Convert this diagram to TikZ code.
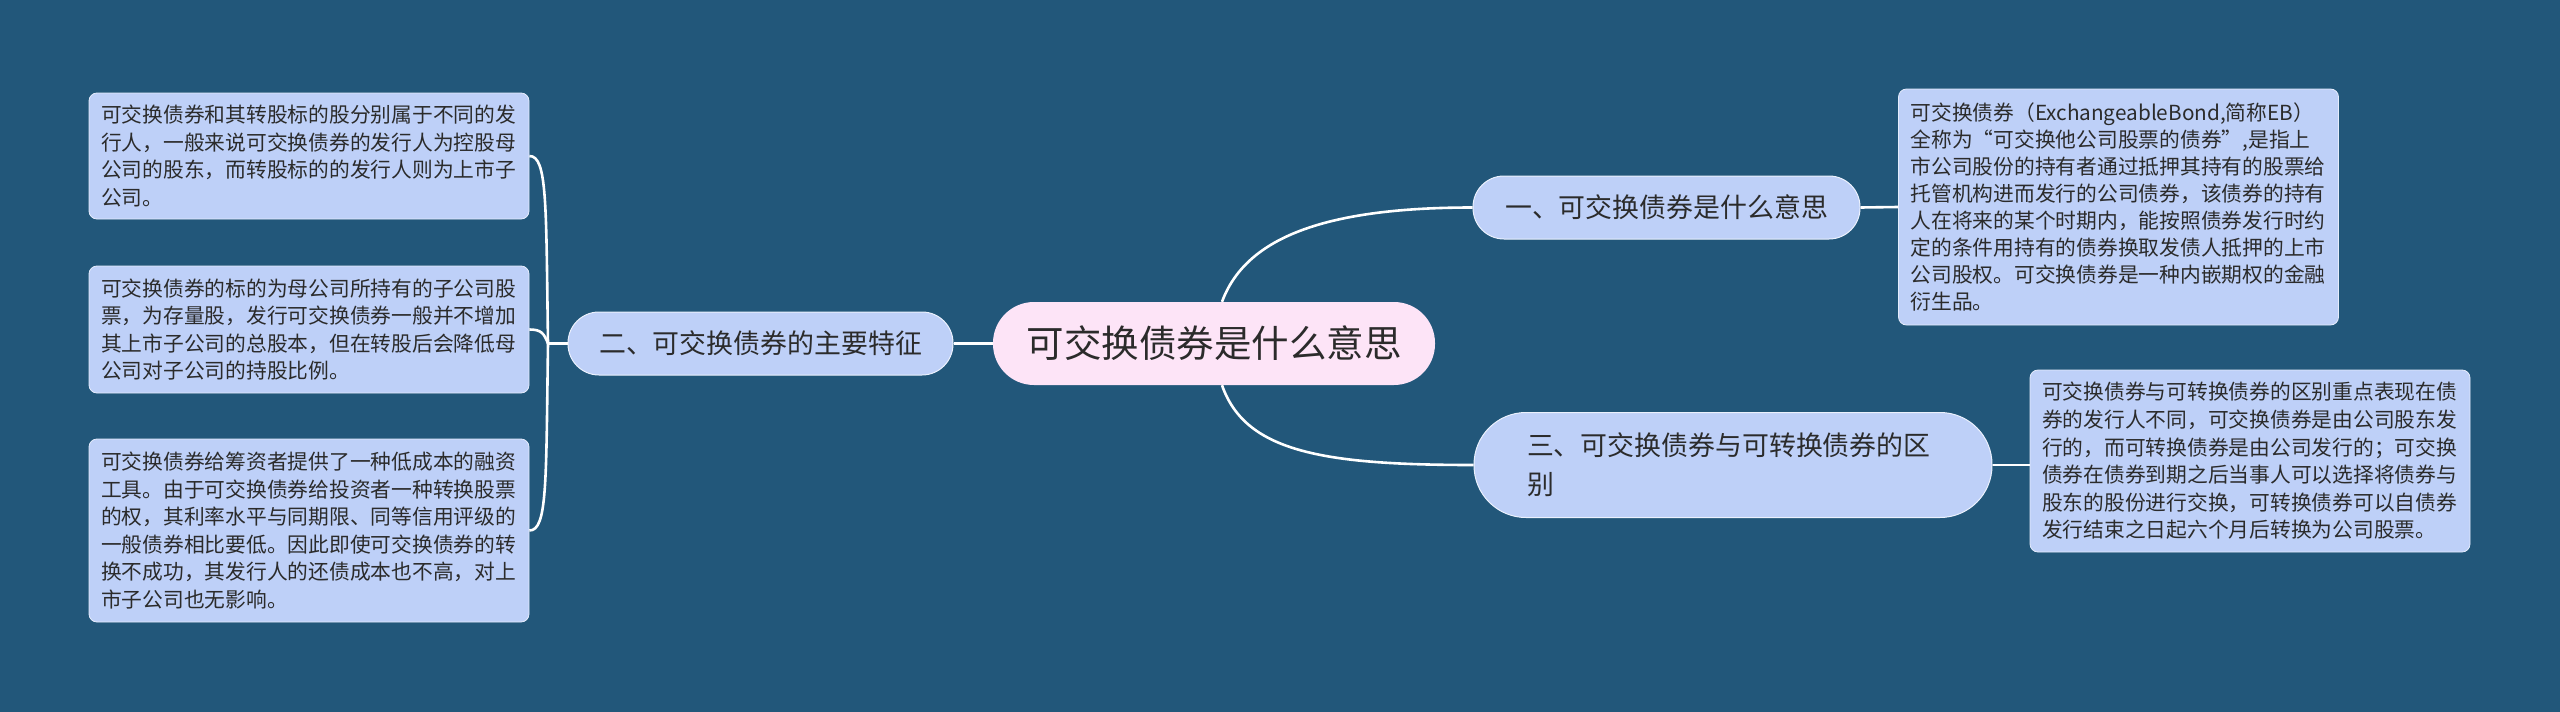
\documentclass[tikz,border=0pt]{standalone}
\usepackage{fontspec}
\setmainfont{Noto Sans CJK SC}
\definecolor{bgcol}{HTML}{22577A}
\definecolor{leafcol}{HTML}{BED0F8}
\definecolor{rootcol}{HTML}{FDE4F7}
\definecolor{txtcol}{HTML}{2B2B2B}
\tikzset{
  conn/.style={draw=white, line width=2.6pt},
  rootbox/.style={fill=rootcol, rounded corners=41pt, minimum width=442pt, minimum height=83pt, inner sep=0pt, text=txtcol, font=\fontsize{37.5pt}{44pt}\selectfont},
  topicbox/.style={fill=leafcol, draw=white!70!leafcol, line width=1pt, rounded corners=31pt, minimum height=63pt, inner sep=0pt, text=txtcol, font=\fontsize{26.9pt}{37pt}\selectfont},
  leafbox/.style={fill=leafcol, draw=white!60!leafcol, line width=0.8pt, rounded corners=8pt, minimum width=440pt, inner xsep=12pt, inner ysep=0pt, text width=416pt, align=left, text=txtcol, font=\fontsize{20.75pt}{27.6pt}\selectfont}
}
\begin{document}
\begin{tikzpicture}[x=1pt, y=-1pt]
\useasboundingbox (0,0) rectangle (2560,712);
\fill[bgcol] (0,0) rectangle (2560,712);

% nodes
\node[rootbox] (c) at (1214,343.5) {可交换债券是什么意思};
\node[topicbox, minimum width=387pt] (n1) at (1666.5,207.5) {一、可交换债券是什么意思};
\node[topicbox, minimum width=385pt] (n2) at (760.5,343.5) {二、可交换债券的主要特征};
\node[topicbox, rounded corners=52pt, minimum width=518pt, minimum height=105pt, text width=412pt, align=left, font=\fontsize{26.9pt}{39pt}\selectfont] (n3) at (1733,465) {三、可交换债券与可转换债券的区\\别};

\node[leafbox, minimum height=126pt] (l1) at (309,156) {可交换债券和其转股标的股分别属于不同的发\\行人，一般来说可交换债券的发行人为控股母\\公司的股东，而转股标的的发行人则为上市子\\公司。};
\node[leafbox, minimum height=127pt] (l2) at (309,329.5) {可交换债券的标的为母公司所持有的子公司股\\票，为存量股，发行可交换债券一般并不增加\\其上市子公司的总股本，但在转股后会降低母\\公司对子公司的持股比例。};
\node[leafbox, minimum height=183pt] (l3) at (309,530.5) {可交换债券给筹资者提供了一种低成本的融资\\工具。由于可交换债券给投资者一种转换股票\\的权，其利率水平与同期限、同等信用评级的\\一般债券相比要低。因此即使可交换债券的转\\换不成功，其发行人的还债成本也不高，对上\\市子公司也无影响。};
\node[leafbox, minimum height=236pt, font=\fontsize{20.75pt}{26.9pt}\selectfont] (r1) at (2118.5,207) {可交换债券（ExchangeableBond,简称EB）\\全称为“可交换他公司股票的债券”,是指上\\市公司股份的持有者通过抵押其持有的股票给\\托管机构进而发行的公司债券，该债券的持有\\人在将来的某个时期内，能按照债券发行时约\\定的条件用持有的债券换取发债人抵押的上市\\公司股权。可交换债券是一种内嵌期权的金融\\衍生品。};
\node[leafbox, minimum height=182pt] (r2) at (2250,461) {可交换债券与可转换债券的区别重点表现在债\\券的发行人不同，可交换债券是由公司股东发\\行的，而可转换债券是由公司发行的；可交换\\债券在债券到期之后当事人可以选择将债券与\\股东的股份进行交换，可转换债券可以自债券\\发行结束之日起六个月后转换为公司股票。};

\coordinate (b) at (548,343.5);

% connectors
\draw[conn] ([xshift=8pt]c.north) .. controls +(23,-62) and +(-153,0) .. (n1.west);
\draw[conn] ([xshift=8pt]c.south) .. controls +(23,66) and +(-153,0) .. (n3.west);
\draw[conn] (c.west) -- (n2.east);
\draw[conn] (n2.west) -- (b);
\draw[conn] (b) .. controls +(-2,-140) and +(18,0) .. (l1.east);
\draw[conn] (b) .. controls +(-4,-10) and +(12,0) .. (l2.east);
\draw[conn] (b) .. controls +(-2,140) and +(18,0) .. (l3.east);
\draw[conn] (n1.east) -- (r1.west);
\draw[conn] (n3.east) -- (n3.east -| r2.west);
\end{tikzpicture}
\end{document}
